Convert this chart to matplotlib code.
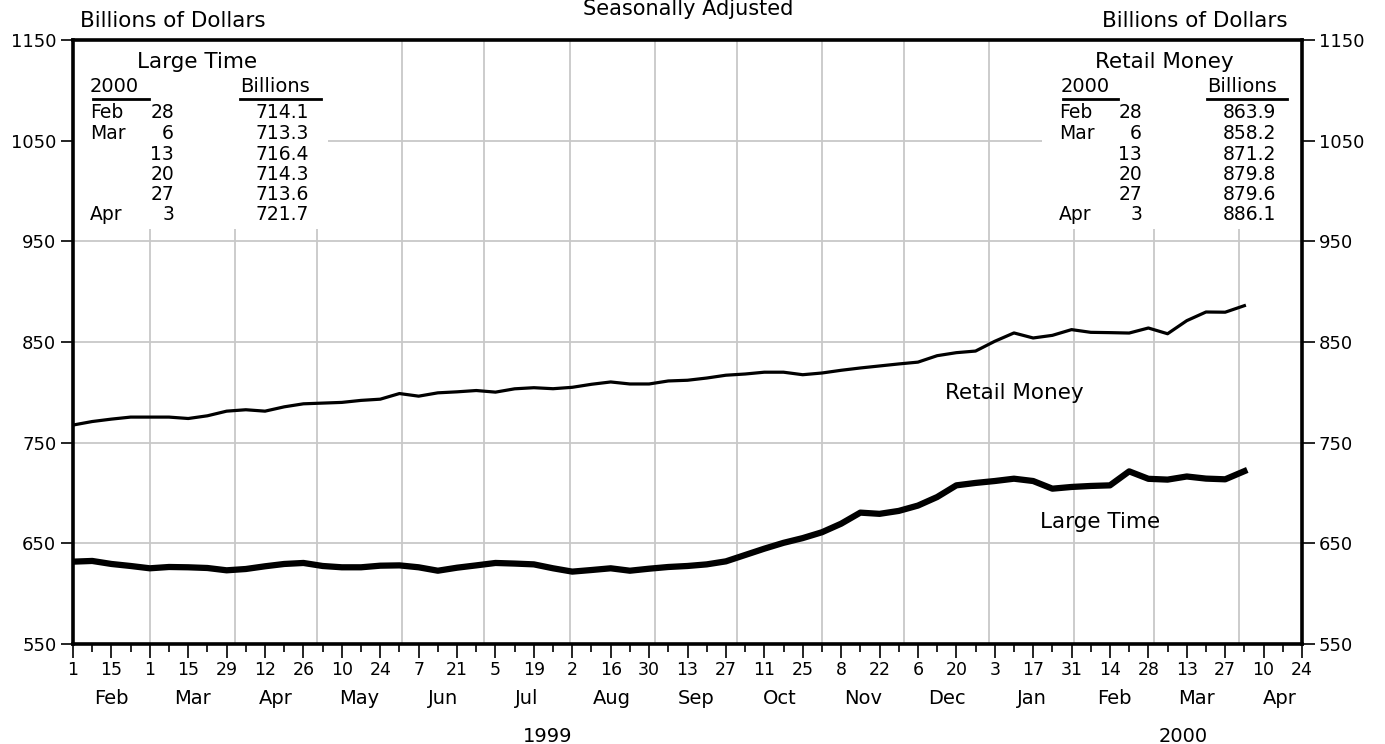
import numpy as np
import pandas as pd
import matplotlib
matplotlib.use("Agg")
import matplotlib.pyplot as plt
import matplotlib.dates as mdates
from matplotlib.patches import Rectangle
from matplotlib.lines import Line2D

plt.rcParams['font.family'] = ['DejaVu Sans']

# ---------------- data ----------------
start_week = "1999-02-01"
retail_money = [767.5, 771.0, 773.4, 775.4, 775.4, 775.4, 774.0, 776.7, 781.3, 782.7,
                781.3, 785.6, 788.6, 789.3, 790.0, 792.0, 793.2, 798.8, 796.2, 799.5,
                800.5, 801.8, 800.2, 803.5, 804.6, 803.6, 805.0, 808.0, 810.3, 808.3,
                808.3, 811.3, 812.0, 814.2, 817.0, 818.2, 820.0, 820.0, 817.5, 819.2,
                821.9, 824.2, 826.2, 828.2, 830.0, 836.4, 839.4, 841.0, 850.7, 859.0,
                854.0, 856.6, 862.3, 859.6, 859.3, 858.9, 863.9, 858.2, 871.2, 879.8,
                879.6, 886.1]
large_time = [631.8, 632.5, 629.5, 627.5, 625.2, 626.5, 626.2, 625.5, 623.2, 624.5,
              627.2, 629.5, 630.5, 627.5, 626.2, 626.2, 627.8, 628.1, 626.2, 622.8,
              625.8, 628.1, 630.5, 629.9, 629.1, 625.2, 621.9, 623.5, 625.2, 622.8,
              624.8, 626.5, 627.5, 629.1, 632.1, 638.4, 644.7, 650.5, 655.2, 661.0,
              669.5, 680.5, 679.3, 682.2, 687.5, 696.0, 707.6, 710.0, 711.9, 714.2,
              711.9, 704.3, 706.0, 707.0, 707.6, 721.5, 714.1, 713.3, 716.4, 714.3,
              713.6, 721.7]

x_tick_labels = ['1', '15', '1', '15', '29', '12', '26', '10', '24', '7', '21', '5', '19',
                 '2', '16', '30', '13', '27', '11', '25', '8', '22', '6', '20', '3', '17',
                 '31', '14', '28', '13', '27', '10', '24']
month_labels = ['Feb', 'Mar', 'Apr', 'May', 'Jun', 'Jul', 'Aug', 'Sep', 'Oct', 'Nov',
                'Dec', 'Jan', 'Feb', 'Mar', 'Apr']
month_starts = ['1999-02-01', '1999-03-01', '1999-04-01', '1999-05-01', '1999-06-01',
                '1999-07-01', '1999-08-01', '1999-09-01', '1999-10-01', '1999-11-01',
                '1999-12-01', '2000-01-01', '2000-02-01', '2000-03-01', '2000-04-01',
                '2000-05-01']
y_ticks = [550, 650, 750, 850, 950, 1050, 1150]
table_months = ['Feb', 'Mar', '', '', '', 'Apr']
table_days = ['28', '6', '13', '20', '27', '3']

# ---------------- figure ----------------
W, H = 1385, 744
fig = plt.figure(figsize=(W / 100, H / 100), dpi=100)
L, R, T, B = 73, 1302, 40, 644
ax = fig.add_axes([L / W, 1 - B / H, (R - L) / W, (B - T) / H])


def fx(x):
    return x / W


def fy(y):
    return 1 - y / H


dates = pd.date_range(start_week, periods=len(retail_money), freq='7D')
xmin = pd.Timestamp(start_week)
xmax = pd.Timestamp('2000-04-24')

ax.plot(dates, retail_money, color='black', lw=2.3, solid_joinstyle='round', zorder=4)
ax.plot(dates, large_time, color='black', lw=4.5, solid_joinstyle='round', zorder=4)

ax.set_xlim(xmin, xmax)
ax.set_ylim(550, 1150)

# grid
ax.set_axisbelow(True)
ax.set_yticks(y_ticks)
ax.yaxis.grid(True, color='#c8c8c8', lw=1.3)
for ms in month_starts[1:-1]:
    ax.axvline(pd.Timestamp(ms), color='#c8c8c8', lw=1.3, zorder=0.5)

# ticks
major = pd.date_range(start_week, xmax, freq='14D')
minor = pd.date_range(start_week, xmax, freq='7D')
ax.set_xticks(mdates.date2num(major))
ax.set_xticklabels(x_tick_labels)
ax.set_xticks(mdates.date2num(minor), minor=True)
ax.tick_params(axis='x', which='major', direction='out', length=10, width=1.2,
               labelsize=12.5, pad=2, colors='black')
ax.tick_params(axis='x', which='minor', direction='out', length=6, width=1.2)
ax.tick_params(axis='y', which='major', direction='out', length=9, width=1.2,
               left=True, right=True, labelleft=True, labelright=True,
               labelsize=13, pad=3)

for s in ax.spines.values():
    s.set_linewidth(2.6)
    s.set_color('black')

# month labels
for i, lab in enumerate(month_labels):
    a = pd.Timestamp(month_starts[i])
    b = pd.Timestamp(month_starts[i + 1])
    mid = a + (b - a) / 2
    ax.text(mdates.date2num(mid), (B - 698) / (B - T), lab, transform=ax.get_xaxis_transform(),
            ha='center', va='center', fontsize=14, clip_on=False)

fig.text(fx(548), fy(737), '1999', ha='center', va='center', fontsize=14)
fig.text(fx(1183), fy(737), '2000', ha='center', va='center', fontsize=14)

# header texts
fig.text(fx(688), fy(15), 'Seasonally Adjusted', ha='center', va='baseline', fontsize=15)
fig.text(fx(80), fy(27), 'Billions of Dollars', ha='left', va='baseline', fontsize=15.5)
fig.text(fx(1288), fy(27), 'Billions of Dollars', ha='right', va='baseline', fontsize=15.5)

# white boxes for tables
ax.add_patch(Rectangle(((0) / (R - L), (B - 229) / (B - T)), (328 - L) / (R - L),
                       (229 - T) / (B - T), transform=ax.transAxes,
                       facecolor='white', edgecolor='none', zorder=1))
ax.add_patch(Rectangle(((1042 - L) / (R - L), (B - 229) / (B - T)), (R - 1042) / (R - L),
                       (229 - T) / (B - T), transform=ax.transAxes,
                       facecolor='white', edgecolor='none', zorder=1))

row_y = [113, 133.5, 154, 174, 194.5, 215]


def table(title, title_x, yr_x, ul_yr, bil_x, ul_bil, mon_x, day_x, val_x, vals):
    fig.text(fx(title_x), fy(62), title, ha='center', va='center', fontsize=15.5)
    fig.text(fx(yr_x), fy(87), '2000', ha='left', va='center', fontsize=14)
    fig.text(fx(bil_x), fy(87), 'Billions', ha='left', va='center', fontsize=14)
    for (x0, x1) in (ul_yr, ul_bil):
        fig.add_artist(Line2D([fx(x0), fx(x1)], [fy(99), fy(99)], color='black', lw=2))
    for j in range(6):
        if table_months[j]:
            fig.text(fx(mon_x), fy(row_y[j]), table_months[j], ha='left', va='center',
                     fontsize=13.5)
        fig.text(fx(day_x), fy(row_y[j]), table_days[j], ha='right', va='center',
                 fontsize=13.5)
        fig.text(fx(val_x), fy(row_y[j]), f"{vals[j]:.1f}", ha='right', va='center',
                 fontsize=13.5)


table('Large Time', 197, 90, (93, 149), 240, (240, 321), 90, 174, 309, large_time[-6:])
table('Retail Money', 1164, 1061, (1063, 1118), 1207, (1207, 1287), 1059, 1142, 1276,
      retail_money[-6:])

# line labels
fig.text(fx(1014), fy(393), 'Retail Money', ha='center', va='center', fontsize=15.5)
fig.text(fx(1100), fy(522), 'Large Time', ha='center', va='center', fontsize=15.5)

fig.savefig('out.png', dpi=100)
